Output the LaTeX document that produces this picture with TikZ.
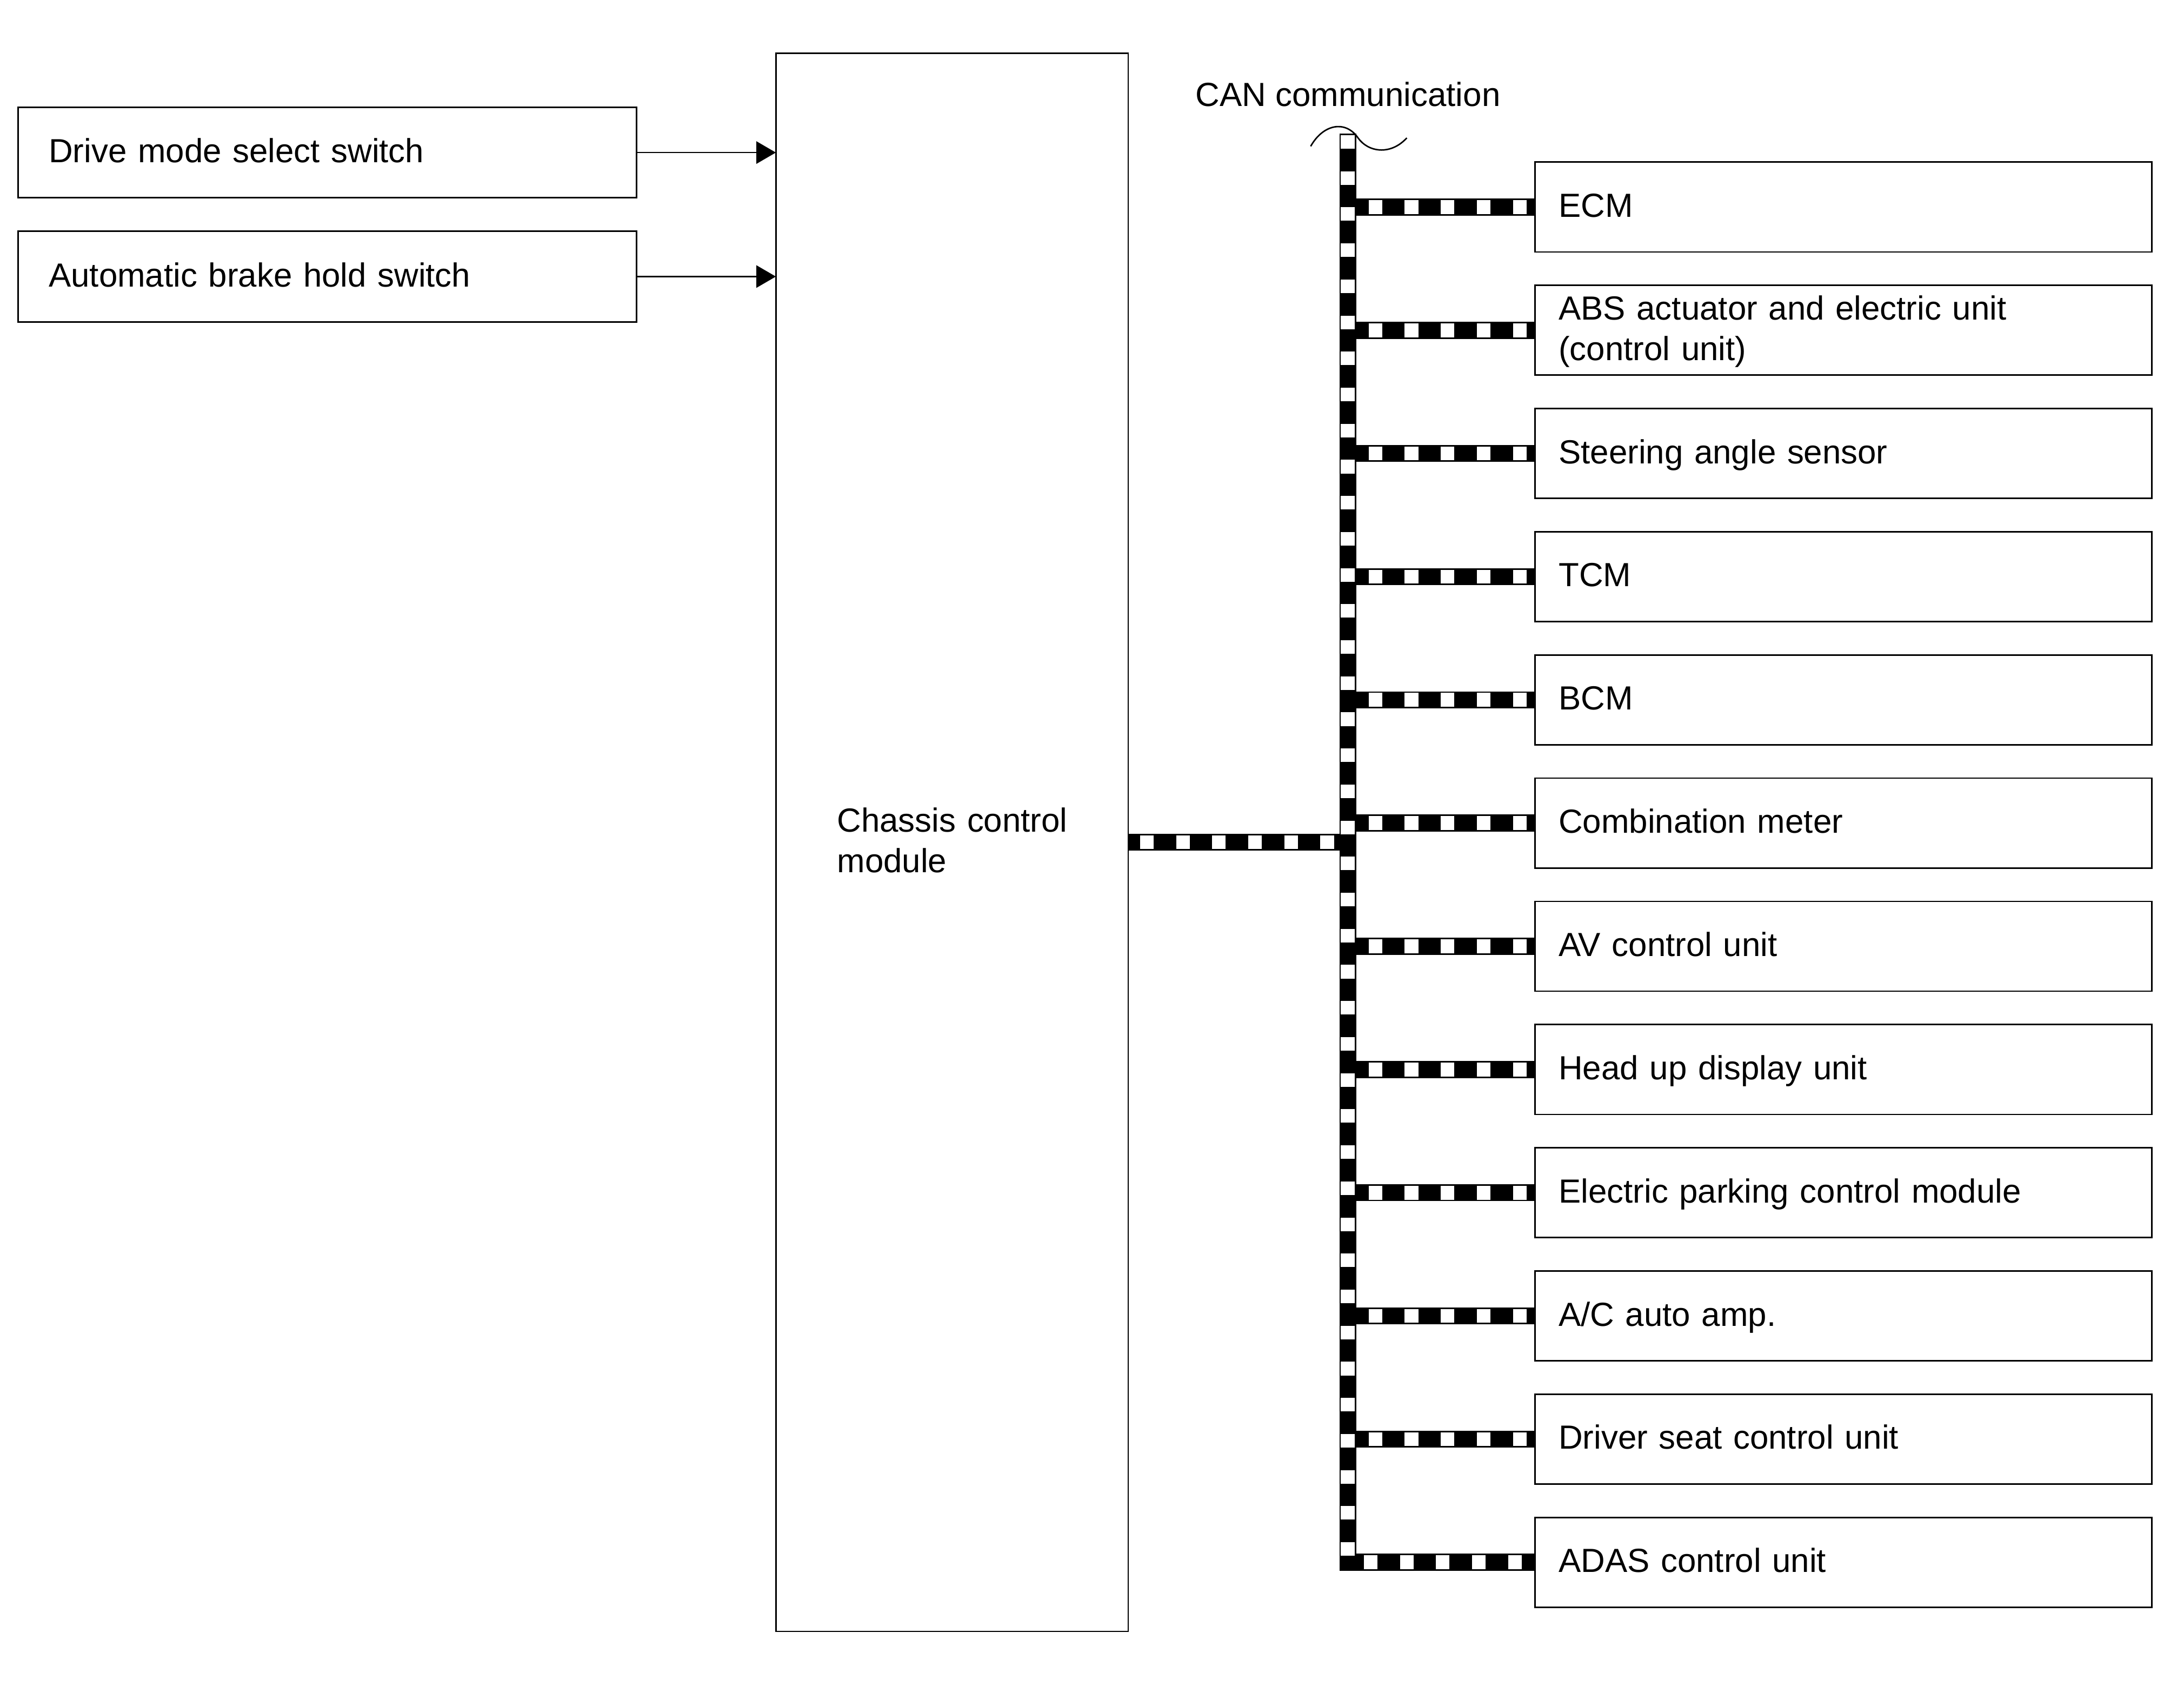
\documentclass[tikz,border=0pt]{standalone}
\usepackage{fontspec}
\setmainfont{Liberation Sans}
\usetikzlibrary{arrows.meta,calc,positioning}

\begin{document}
\begin{tikzpicture}[x=0.02cm, y=-0.02cm,
    every node/.style={font=\fontsize{13.66pt}{16.5pt}\selectfont, outer sep=0pt},
    unit/.style={rectangle, draw, line width=0.6pt, minimum height=1.29cm, minimum width=8.86cm, inner xsep=0.34cm, text width=8.18cm, align=left, text height=9.8pt, text depth=1.6pt},
    switchbox/.style={rectangle, draw, line width=0.6pt, minimum height=1.3cm, minimum width=8.88cm, inner xsep=0.44cm, text width=8.0cm, align=left, text height=9.8pt, text depth=1.6pt},
    canline/.style={draw=black, line width=0.245cm, postaction={draw=white, line width=0.2cm, dash pattern=on 0.195cm off 0.323cm, dash phase=#1}},
    canline/.default=0.22cm,
    node distance=0.479cm]
    \useasboundingbox (0,0) rectangle (1568,1219.4);

    % inputs and control module
    \node(ccm) [rectangle, draw, line width=0.6pt, minimum width=5.06cm, minimum height=22.66cm, inner xsep=0.88cm, text width=3.3cm, align=left, text height=9.8pt, text depth=18.1pt] at (683.5,604.5) {\mbox{Chassis control}\\module};
    \node(dmss) [switchbox] at (235,109.5) {Drive mode select switch};
    \node(abhs) [switchbox] at (235,198.5) {Automatic brake hold switch};
    \draw[line width=0.6pt, -{Triangle[length=0.28cm,width=0.32cm]}] (dmss) -- (dmss -| ccm.west);
    \draw[line width=0.6pt, -{Triangle[length=0.28cm,width=0.32cm]}] (abhs) -- (abhs -| ccm.west);

    % units on the CAN bus
    \node(ecm) [unit] at (1323.5,148.6) {ECM};
    \node(abs) [unit, text depth=18.1pt, below=of ecm] {ABS actuator and electric unit\\(control unit)};
    \node(sas) [unit, below=of abs] {Steering angle sensor};
    \node(tcm) [unit, below=of sas] {TCM};
    \node(bcm) [unit, below=of tcm] {BCM};
    \node(meter) [unit, below=of bcm] {Combination meter};
    \node(av) [unit, below=of meter] {AV control unit};
    \node(hud) [unit, below=of av] {Head up display unit};
    \node(epcm) [unit, below=of hud] {Electric parking control module};
    \node(ac) [unit, below=of epcm] {A/C auto amp.};
    \node(seat) [unit, below=of ac] {Driver seat control unit};
    \node(adas) [unit, below=of seat] {ADAS control unit};

    \node(canlbl) [anchor=base west, inner sep=0pt] at (858.5,76.3) {CAN communication};
    \coordinate (bustop) at (967.7,96);

    \draw[canline=0.348cm] (ccm.east) -- (ccm.east -| bustop);
    \draw[canline] (ecm.west -| bustop) -- (ecm.west);
    \draw[canline] (abs.west -| bustop) -- (abs.west);
    \draw[canline] (sas.west -| bustop) -- (sas.west);
    \draw[canline] (tcm.west -| bustop) -- (tcm.west);
    \draw[canline] (bcm.west -| bustop) -- (bcm.west);
    \draw[canline] (meter.west -| bustop) -- (meter.west);
    \draw[canline] (av.west -| bustop) -- (av.west);
    \draw[canline] (hud.west -| bustop) -- (hud.west);
    \draw[canline] (epcm.west -| bustop) -- (epcm.west);
    \draw[canline] (ac.west -| bustop) -- (ac.west);
    \draw[canline] (seat.west -| bustop) -- (seat.west);
    \draw[canline=0.498cm] (bustop) -- (bustop |- adas.west) -- (adas.west);

    % wave mark at the bus end
    \draw[line width=0.6pt] (941,105) .. controls (950,89) and (966,86) .. (975,99) .. controls (982,109) and (998,112) .. (1010,99);
  \end{tikzpicture}
\end{document}
